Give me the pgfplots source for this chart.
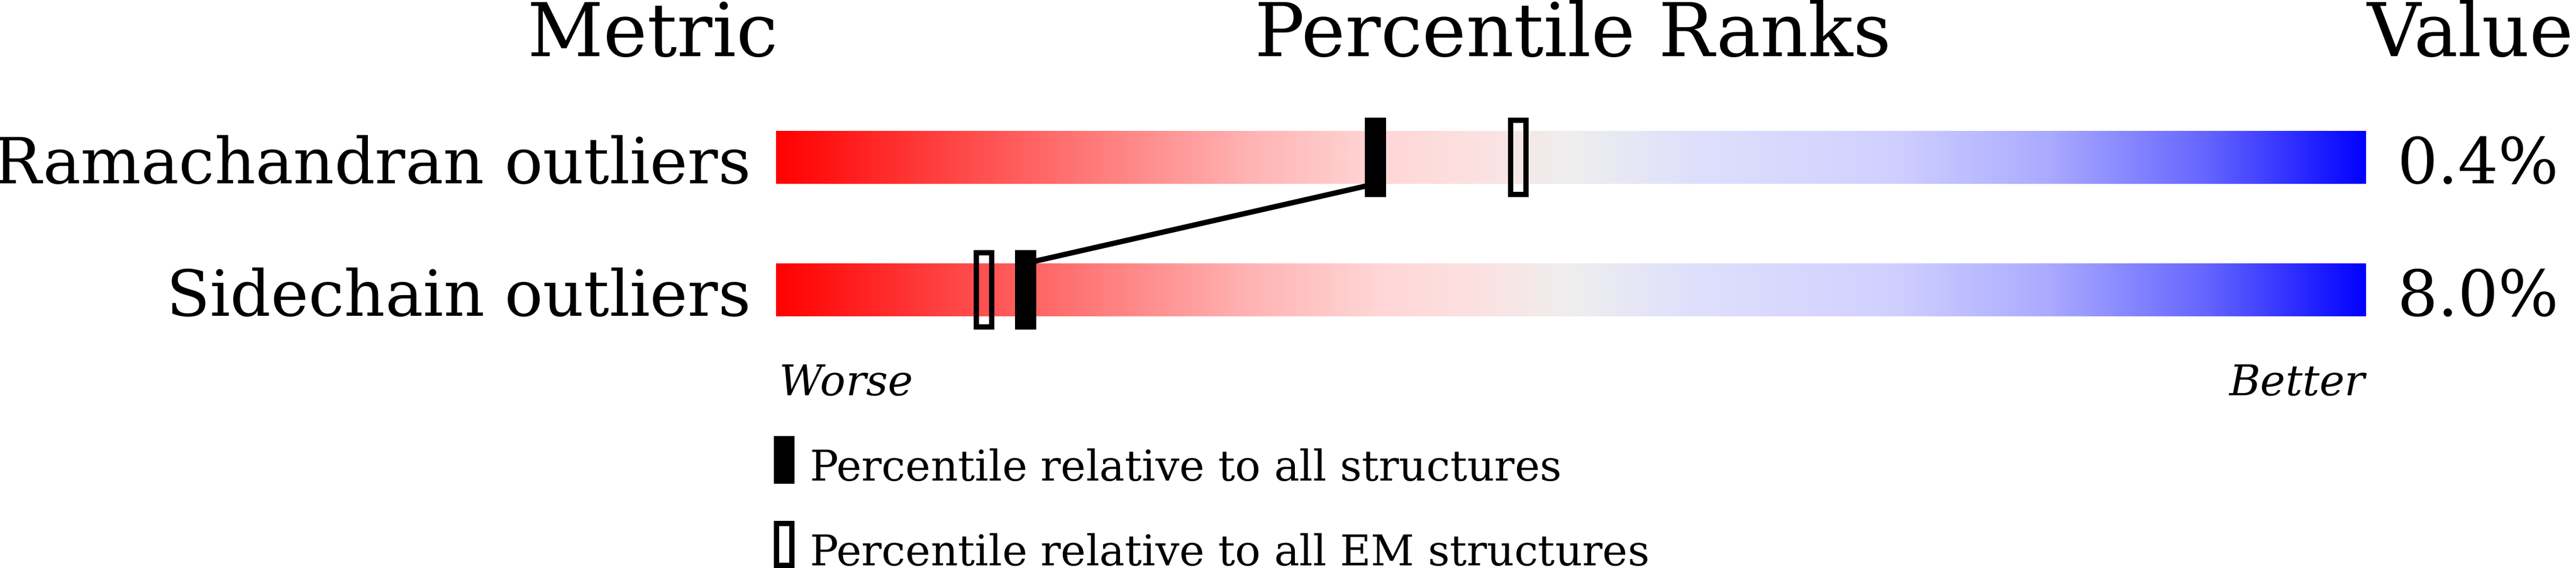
\documentclass[border=0pt]{standalone}
\usepackage{fontspec}
\setmainfont{DejaVu Serif}
\usepackage{pgfplots}
\pgfplotsset{compat=1.18}

% slider markers: solid = all structures, open = EM structures
\pgfdeclareplotmark{pctall}{%
  \pgfpathrectangle{\pgfpoint{-2bp}{-7.5bp}}{\pgfpoint{4bp}{15bp}}%
  \pgfusepathqfill}
\pgfdeclareplotmark{pctem}{%
  \pgfpathrectangle{\pgfpoint{-1.45bp}{-7bp}}{\pgfpoint{2.9bp}{14bp}}%
  \pgfusepathqstroke}

\pgfplotsset{colormap={pdbslider}{
  rgb255(0pt)=(255,0,0) rgb255(10pt)=(255,62,62) rgb255(20pt)=(255,122,122)
  rgb255(30pt)=(255,180,180) rgb255(38pt)=(255,214,214) rgb255(44pt)=(252,224,224)
  rgb255(50pt)=(238,238,238) rgb255(58pt)=(222,222,252) rgb255(70pt)=(208,208,255)
  rgb255(80pt)=(170,170,255) rgb255(90pt)=(100,100,255) rgb255(100pt)=(0,0,255)}}

\newcommand{\hdr}{\fontsize{14bp}{17bp}\selectfont}
\newcommand{\lbl}{\fontsize{12bp}{14bp}\selectfont}
\newcommand{\sml}{\fontsize{8bp}{10bp}\selectfont}

\begin{document}
\begin{tikzpicture}
\path[use as bounding box] (-146.4bp,0) rectangle (339.6bp,107.2bp);
\begin{axis}[
    at={(0,0)}, anchor=origin,
    scale only axis,
    width=300bp, height=107.2bp,
    xmin=0, xmax=100, ymin=0, ymax=107.2,
    axis lines=none, ticks=none,
    clip=false,
    colormap name=pdbslider,
    point meta min=0, point meta max=100,
]
% gradient bars (percentile scale 0..100)
\addplot[surf, shader=interp, point meta=x, mesh/cols=12] coordinates {
  (0,72.5) (10,72.5) (20,72.5) (30,72.5) (38,72.5) (44,72.5) (50,72.5) (58,72.5) (70,72.5) (80,72.5) (90,72.5) (100,72.5)
  (0,82.5) (10,82.5) (20,82.5) (30,82.5) (38,82.5) (44,82.5) (50,82.5) (58,82.5) (70,82.5) (80,82.5) (90,82.5) (100,82.5)
};
\addplot[surf, shader=interp, point meta=x, mesh/cols=12] coordinates {
  (0,47.5) (10,47.5) (20,47.5) (30,47.5) (38,47.5) (44,47.5) (50,47.5) (58,47.5) (70,47.5) (80,47.5) (90,47.5) (100,47.5)
  (0,57.5) (10,57.5) (20,57.5) (30,57.5) (38,57.5) (44,57.5) (50,57.5) (58,57.5) (70,57.5) (80,57.5) (90,57.5) (100,57.5)
};

% link between the two "all structures" percentiles
\addplot[black, line width=1bp, mark=none] coordinates {(37.7,72.5) (15.7,57.5)};

% percentile relative to all structures
\addplot[only marks, mark=pctall, black, mark options={fill=black}] coordinates {(37.7,77.5) (15.7,52.5)};
% percentile relative to all EM structures
\addplot[only marks, mark=pctem, black, mark options={draw=black, line width=1bp}] coordinates {(46.7,77.5) (13.1,52.5)};

% headers
\node[anchor=base east, inner sep=0pt, xshift=0.6bp] at (axis cs:0,96.5) {\hdr Metric};
\node[anchor=base, inner sep=0pt, xshift=0.4bp] at (axis cs:50,96.5) {\hdr Percentile Ranks};
\node[anchor=base west, inner sep=0pt] at (axis cs:100,96.5) {\hdr Value};

% row labels and values
\node[anchor=base east, inner sep=0pt, xshift=-4.5bp] at (axis cs:0,72.5) {\lbl Ramachandran outliers};
\node[anchor=base east, inner sep=0pt, xshift=-4.5bp] at (axis cs:0,47.5) {\lbl Sidechain outliers};
\node[anchor=base west, inner sep=0pt, xshift=5.7bp] at (axis cs:100,72.5) {\lbl 0.4\%};
\node[anchor=base west, inner sep=0pt, xshift=5.7bp] at (axis cs:100,47.5) {\lbl 8.0\%};

% scale ends
\node[anchor=base west, inner sep=0pt, xshift=0.5bp] at (axis cs:0,32.5) {\sml\itshape Worse};
\node[anchor=base east, inner sep=0pt] at (axis cs:100,32.5) {\sml\itshape Better};

% key
\fill[black] (axis cs:-0.13,15.9) rectangle (axis cs:1.17,24.9);
\draw[black, line width=1bp] (axis cs:0.03,0.5) rectangle (axis cs:1.0,8.4);
\node[anchor=base west, inner sep=0pt] at (axis cs:2.07,16.5) {\sml Percentile relative to all structures};
\node[anchor=base west, inner sep=0pt] at (axis cs:2.07,0.5) {\sml Percentile relative to all EM structures};
\end{axis}
\end{tikzpicture}
\end{document}
